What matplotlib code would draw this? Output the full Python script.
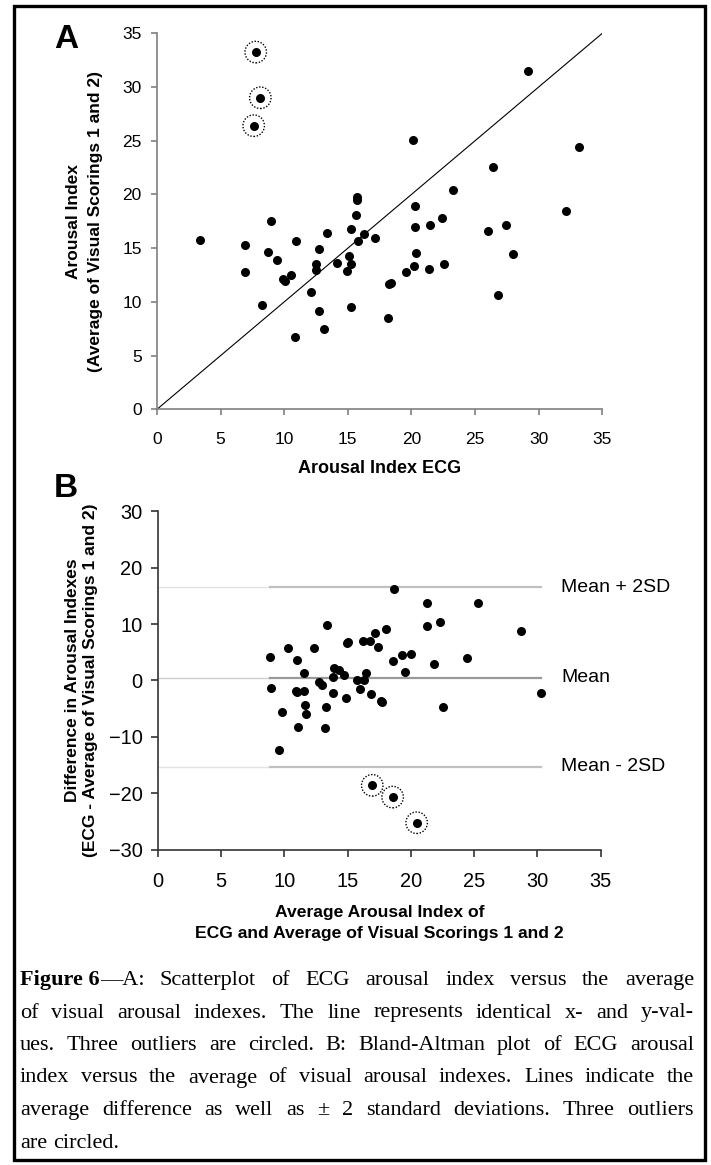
import matplotlib
matplotlib.use("Agg")
import matplotlib.pyplot as plt
from matplotlib.patches import Rectangle

# panel A: ECG arousal index vs average of visual scorings
ecg_idx = [7.76, 8.12, 7.6, 29.17, 20.15, 33.18, 26.44, 23.25, 15.7, 15.75,
           20.28, 15.62, 8.96, 32.13, 22.4, 27.46, 21.45, 20.26, 15.23, 26.05,
           13.34, 16.27, 17.11, 3.36, 15.8, 10.9, 6.9, 12.71, 8.7, 20.34,
           28.01, 15.09, 9.41, 14.13, 12.5, 15.23, 22.56, 20.23, 21.41, 12.52,
           14.94, 6.9, 19.58, 10.56, 9.88, 10.04, 18.21, 18.42, 12.1, 26.78,
           8.23, 15.23, 12.76, 18.16, 13.1, 10.87]
visual_idx = [33.25, 29.0, 26.4, 31.48, 25.06, 24.46, 22.6, 20.43, 19.75, 19.45,
              18.94, 18.08, 17.55, 18.5, 17.77, 17.2, 17.15, 16.99, 16.8, 16.62,
              16.43, 16.3, 15.94, 15.8, 15.69, 15.68, 15.28, 14.94, 14.63, 14.54,
              14.47, 14.29, 13.92, 13.64, 13.5, 13.5, 13.51, 13.33, 13.08, 13.0,
              12.9, 12.77, 12.8, 12.52, 12.15, 11.9, 11.68, 11.75, 10.94, 10.63,
              9.7, 9.48, 9.17, 8.49, 7.46, 6.72]
outliers_a = [0, 1, 2]

# panel B: Bland-Altman
avg_idx = [18.68, 21.24, 25.3, 13.33, 21.26, 22.32, 18.02, 17.18, 28.7, 8.83,
           10.3, 12.33, 10.96, 14.94, 15.05, 16.18, 16.76, 17.42, 18.6, 19.31,
           20.03, 21.85, 24.45, 19.55, 11.54, 13.91, 14.33, 13.83, 14.68, 16.47,
           15.71, 16.3, 16.0, 8.96, 12.73, 12.99, 10.91, 10.99, 11.54, 13.83,
           16.81, 17.63, 17.71, 14.86, 11.65, 11.7, 13.28, 9.8, 22.55, 11.09,
           13.2, 9.59, 30.25, 16.94, 18.55, 20.45]
diff_idx = [16.19, 13.65, 13.76, 9.75, 9.63, 10.34, 9.15, 8.44, 8.77, 4.19,
            5.67, 5.78, 3.6, 6.67, 6.74, 6.97, 6.97, 5.9, 3.42, 4.49,
            4.72, 2.89, 3.95, 1.42, 1.24, 2.23, 1.83, 0.53, 0.89, 1.24,
            0.11, 0.0, -1.49, -1.37, -0.35, -0.89, -1.84, -2.13, -1.9, -2.2,
            -2.43, -3.61, -3.9, -3.08, -4.44, -5.98, -4.79, -5.67, -4.79, -8.28,
            -8.51, -12.36, -2.25, -18.62, -20.7, -25.25]
outliers_b = [53, 54, 55]
mean_diff = 0.46
upper_lim = 16.5
lower_lim = -15.3
lim_labels = ["Mean + 2SD", "Mean", "Mean - 2SD"]

caption = [
    [[("Figure 6", "bold"), ("\u2014A:", "normal")], "Scatterplot", "of", "ECG", "arousal", "index", "versus", "the", "average"],
    ["of", "visual", "arousal", "indexes.", "The", "line", "represents", "identical", "x-", "and", "y-val-"],
    ["ues.", "Three", "outliers", "are", "circled.", "B:", "Bland-Altman", "plot", "of", "ECG", "arousal"],
    ["index", "versus", "the", "average", "of", "visual", "arousal", "indexes.", "Lines", "indicate", "the"],
    ["average", "difference", "as", "well", "as", "\u00b1", "2", "standard", "deviations.", "Three", "outliers"],
    ["are", "circled."],
]

W, H = 711, 1165
plt.rcParams['font.family'] = ['Liberation Sans', 'DejaVu Sans']


def fx(x):
    return x / W


def fy(y):
    return 1 - y / H


def style_axes(ax, col, fs, tl, padx, pady):
    for s in ['top', 'right']:
        ax.spines[s].set_visible(False)
    for s in ['left', 'bottom']:
        ax.spines[s].set_color(col)
        ax.spines[s].set_linewidth(1.2)
    ax.tick_params(direction='out', length=tl, width=1.2, color=col, labelsize=fs)
    ax.tick_params(axis='x', pad=padx)
    ax.tick_params(axis='y', pad=pady)


fig = plt.figure(figsize=(W / 100, H / 100), dpi=100)
fig.patches.append(Rectangle((fx(14), fy(1160)), fx(705) - fx(14), fy(6) - fy(1160),
                             transform=fig.transFigure, fill=False, lw=2.4, ec='black'))

# ---- panel A
axA = fig.add_axes([fx(157), fy(409.3), fx(602.3) - fx(157), fy(33.3) - fy(409.3)])
axA.plot([0, 35], [0, 35], color='black', lw=0.8)
axA.scatter(ecg_idx, visual_idx, s=30, color='black', zorder=3, clip_on=False)
axA.scatter([ecg_idx[i] for i in outliers_a], [visual_idx[i] for i in outliers_a],
            s=240, facecolors='none', edgecolors='black', linewidths=1.0,
            linestyles=(0, (1, 1.2)), zorder=3)
axA.set_xlim(0, 35)
axA.set_ylim(0, 35)
axA.set_xticks(range(0, 36, 5))
axA.set_yticks(range(0, 36, 5))
style_axes(axA, '#808080', 12.5, 4, 12, 7)
axA.set_xlabel("Arousal Index ECG", fontsize=13, fontweight='bold', labelpad=10)
axA.set_ylabel("Arousal Index\n(Average of Visual Scorings 1 and 2)", fontsize=12.5,
               fontweight='bold', labelpad=14, linespacing=1.6)
fig.text(fx(54), fy(48), "A", fontsize=24, fontweight='heavy', ha='left', va='baseline')

# ---- panel B
axB = fig.add_axes([fx(158), fy(849.5), fx(600.7) - fx(158), fy(511.3) - fy(849.5)])
x0, x1 = min(avg_idx), max(avg_idx)
for yv, c1, c2 in [(upper_lim, '#e2e2e2', '#c0c0c0'), (mean_diff, '#cfcfcf', '#999999'),
                   (lower_lim, '#e2e2e2', '#c0c0c0')]:
    axB.plot([0, x0], [yv, yv], color=c1, lw=1.0, zorder=1)
    axB.plot([x0, x1], [yv, yv], color=c2, lw=1.6, zorder=1)
axB.scatter(avg_idx, diff_idx, s=30, color='black', zorder=3)
axB.scatter([avg_idx[i] for i in outliers_b], [diff_idx[i] for i in outliers_b],
            s=240, facecolors='none', edgecolors='black', linewidths=1.0,
            linestyles=(0, (1, 1.2)), zorder=3)
for yv, lab in zip([upper_lim, mean_diff, lower_lim], lim_labels):
    axB.text(x1 + 1.65, yv, lab, fontsize=14, va='center', ha='left')
axB.set_xlim(0, 35)
axB.set_ylim(-30, 30)
axB.set_xticks(range(0, 36, 5))
axB.set_yticks(range(-30, 31, 10))
style_axes(axB, '#333333', 14.4, 5, 11, 6)
axB.set_xlabel("Average Arousal Index of\nECG and Average of Visual Scorings 1 and 2",
               fontsize=12.6, fontweight='bold', labelpad=10, linespacing=1.55)
axB.set_ylabel("Difference in Arousal Indexes\n(ECG - Average of Visual Scorings 1 and 2)",
               fontsize=12.5, fontweight='bold', labelpad=8, linespacing=1.25)
fig.text(fx(54), fy(497), "B", fontsize=24, fontweight='heavy', ha='left', va='baseline')

# ---- caption, justified
serif = ['Liberation Serif', 'DejaVu Serif']
cap_fs = 16
left, right = 20, 694
base0, step = 985, 32.5
renderer = fig.canvas.get_renderer()


def word_parts(w):
    return w if isinstance(w, list) else [(w, 'normal')]


def width_of(parts):
    tot = 0
    for txt, wt in parts:
        t = fig.text(0, 0, txt, fontsize=cap_fs, family=serif, fontweight=wt)
        tot += t.get_window_extent(renderer).width
        t.remove()
    return tot


space_w = width_of([("a a", 'normal')]) - width_of([("aa", 'normal')])
for li, words in enumerate(caption):
    y = fy(base0 + li * step)
    widths = [width_of(word_parts(w)) for w in words]
    if li < len(caption) - 1:
        gap = (right - left - sum(widths)) / (len(words) - 1)
    else:
        gap = space_w
    xpos = left
    for w, wd in zip(words, widths):
        xx = xpos
        for txt, wt in word_parts(w):
            t = fig.text(fx(xx), y, txt, fontsize=cap_fs, family=serif, fontweight=wt,
                         ha='left', va='baseline')
            xx += t.get_window_extent(renderer).width
        xpos += wd + gap

fig.savefig("out.png", dpi=100)
